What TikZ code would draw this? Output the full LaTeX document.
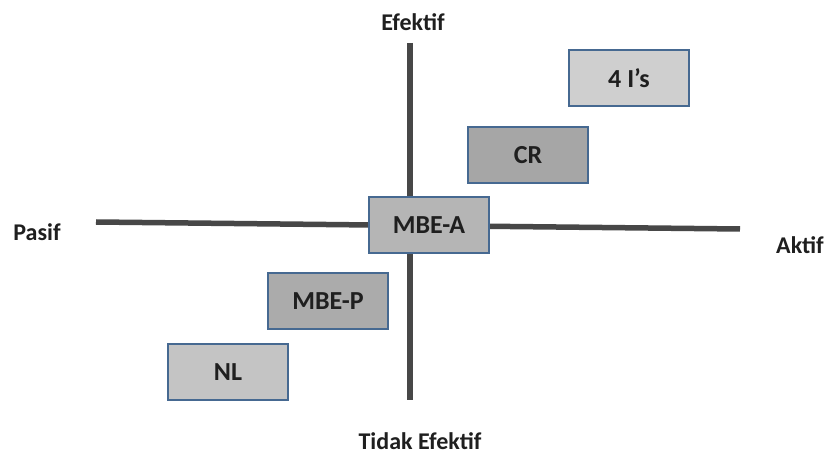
\documentclass[tikz,border=0pt]{standalone}
\usepackage{fontspec}
\setmainfont{Carlito}
\definecolor{boxedge}{RGB}{70,105,145}
\begin{document}
\begin{tikzpicture}[x=1pt,y=-1pt,
  axisline/.style={line width=5.5pt,draw=black!72},
  cat/.style={draw=boxedge,line width=2pt,minimum width=120pt,minimum height=56pt,inner sep=0pt,font=\bfseries\fontsize{26}{26}\selectfont,text=black!88},
  lab/.style={font=\bfseries\fontsize{24}{24}\selectfont,text=black!88}]
\useasboundingbox[fill=white] (0,0) rectangle (828,457);
\coordinate (L) at (96,222);
\coordinate (R) at (740,229);
\coordinate (T) at (410,43);
\coordinate (B) at (410,400);
\draw[axisline] (L) -- (R);
\draw[axisline] (T) -- (B);
\node[lab] (ef) at (413,22) {Efektif};
\node[lab] (te) at (420,441) {Tidak Efektif};
\node[lab] (pa) at (37,232) {Pasif};
\node[lab] (ak) at (800,245) {Aktif};
\node[cat,fill=black!19] (fouri) at (629,78) {4 I’s};
\node[cat,fill=black!35] (cr) at (528,155) {CR};
\node[cat,fill=black!29] (mbea) at (429,225) {MBE-A};
\node[cat,fill=black!33] (mbep) at (328,301) {MBE-P};
\node[cat,fill=black!23] (nl) at (228,372) {NL};
\end{tikzpicture}
\end{document}
